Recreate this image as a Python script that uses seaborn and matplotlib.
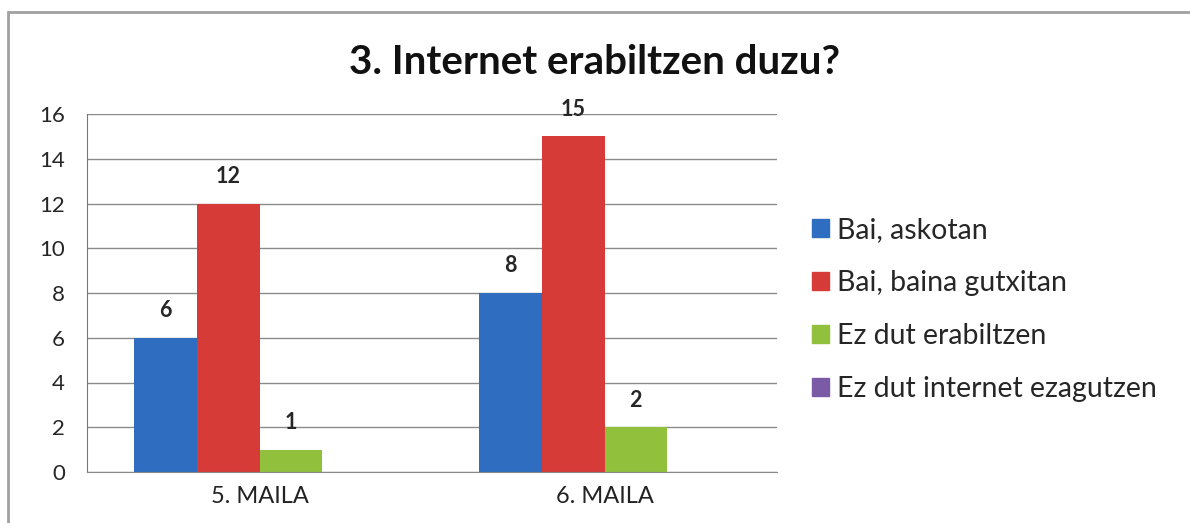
import pandas as pd
import matplotlib.pyplot as plt
import matplotlib.patches as mpatches
import seaborn as sns

maila = ['5. MAILA', '6. MAILA']
erantzunak = ['Bai, askotan', 'Bai, baina gutxitan', 'Ez dut erabiltzen', 'Ez dut internet ezagutzen']
bai_askotan = [6, 8]
bai_gutxitan = [12, 15]
ez_erabili = [1, 2]
ez_ezagutu = [0, 0]
koloreak = ['#2f6dc0', '#d63b38', '#90c03c', '#7b5aa6']


def datuak_prestatu():
    balioak = [bai_askotan, bai_gutxitan, ez_erabili, ez_ezagutu]
    rows = []
    for erantzuna, serie in zip(erantzunak, balioak):
        for m, v in zip(maila, serie):
            rows.append({'maila': m, 'erantzuna': erantzuna, 'kopurua': v})
    return pd.DataFrame(rows)


def marraztu(df):
    sns.set_style('white')
    plt.rcParams['font.family'] = ['Lato', 'DejaVu Sans']

    fig = plt.figure(figsize=(11.9, 5.23), dpi=100)
    ax = fig.add_axes([87 / 1190, 1 - 472 / 523, 690 / 1190, 358 / 523])

    sns.barplot(data=df, x='maila', y='kopurua', hue='erantzuna', hue_order=erantzunak,
                palette=koloreak, width=0.725, saturation=1, ax=ax, legend=False,
                edgecolor='none')

    # balioen etiketak (0 direnak ez)
    for cont in ax.containers:
        labels = [f'{int(v)}' if v > 0 else '' for v in cont.datavalues]
        ax.bar_label(cont, labels=labels, padding=12, fontsize=15.5, fontweight='bold')

    ax.set_ylim(0, 16)
    ax.set_xlim(-0.5, 1.5)
    ax.set_yticks(range(0, 17, 2))
    ax.yaxis.grid(True, color='#8a8a8a', linewidth=1)
    ax.set_axisbelow(True)
    ax.set_xticks([0, 1])
    ax.set_xticklabels(maila, fontsize=17, color='#222222')
    ax.tick_params(axis='x', length=0, pad=10)
    ax.set_xticks([-0.5, 0.5, 1.5], minor=True)
    ax.tick_params(axis='x', which='minor', length=8, color='#777777', direction='out')
    ax.tick_params(axis='y', length=8, color='#777777', direction='out', labelsize=16, pad=8)
    ax.set_xlabel('')
    ax.set_ylabel('')
    for s in ['top', 'right']:
        ax.spines[s].set_visible(False)
    ax.spines['left'].set_color('#777777')
    ax.spines['bottom'].set_color('#8a8a8a')

    fig.text(595 / 1190, 1 - 62 / 523, '3. Internet erabiltzen duzu?', ha='center', va='center',
             fontsize=29, fontweight='bold', color='#111111')

    handles = [mpatches.Patch(color=c, label=l) for c, l in zip(koloreak, erantzunak)]
    fig.legend(handles=handles, loc='upper left', bbox_to_anchor=(786 / 1190, 1 - 191 / 523),
               frameon=False, fontsize=20.5, labelspacing=0.95, handlelength=0.6, handleheight=0.6,
               handletextpad=0.3)

    # kanpoko markoa
    fig.add_artist(mpatches.Rectangle((8 / 1190, -0.05), 1.1, 1 - 12 / 523 + 0.05,
                                      transform=fig.transFigure, fill=False,
                                      edgecolor='#a0a0a0', linewidth=2))

    fig.savefig('out.png', dpi=100, facecolor='white')


if __name__ == '__main__':
    df = datuak_prestatu()
    marraztu(df)
